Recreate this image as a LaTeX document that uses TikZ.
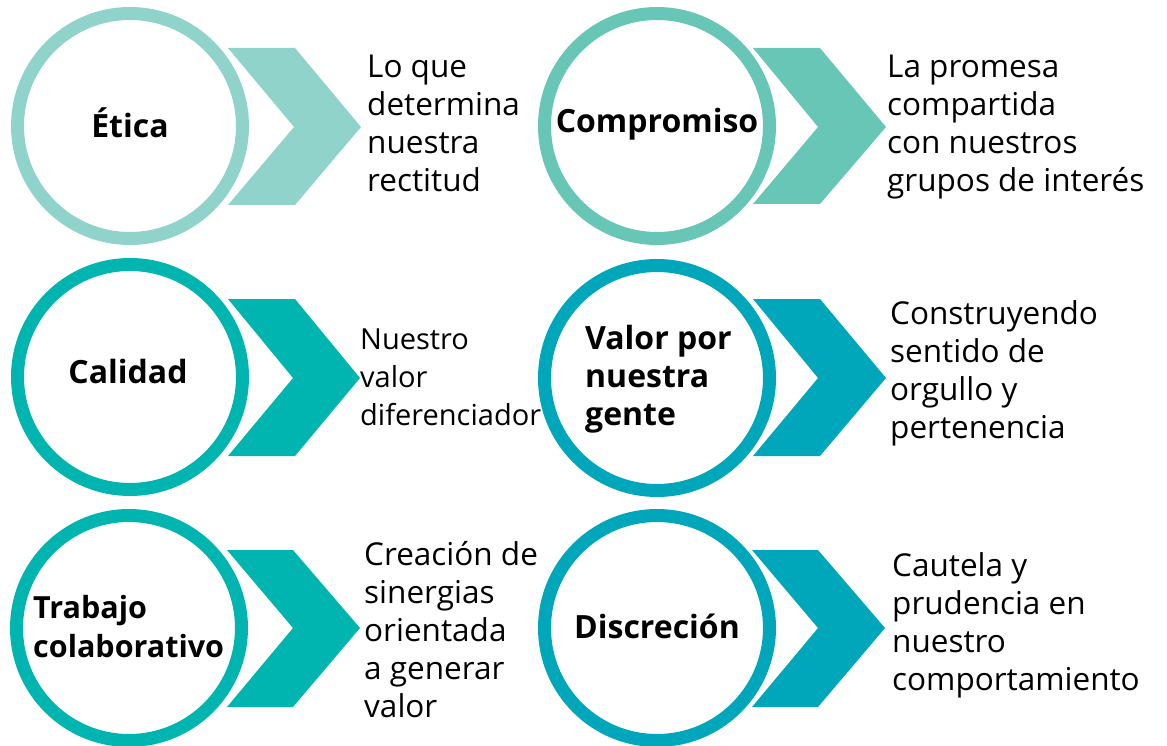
\documentclass[tikz,border=0pt]{standalone}
\usepackage{fontspec}
\setmainfont{Open Sans}
\definecolor{cA}{HTML}{8FD3CA}
\definecolor{cB}{HTML}{67C6B5}
\definecolor{cC}{HTML}{00B5AF}
\definecolor{cD}{HTML}{00A6B9}
\begin{document}
\begin{tikzpicture}[x=1pt,y=-1pt,
  ring/.style={circle, draw=#1, line width=13pt, fill=white, minimum size=225pt, inner sep=0pt},
  chev/.style={fill=#1, draw=none},
  lbl/.style={font=\fontsize{32}{38}\selectfont\bfseries, inner sep=0pt, align=left},
  desc/.style={font=\fontsize{31.5}{38}\selectfont, inner sep=0pt, align=left, anchor=base west, text=black}]
\useasboundingbox (0,0) rectangle (1167,746);
% chevrons
\fill[chev=cA] (228,48) -- (295,48) -- (361,127) -- (295,205) -- (228,205) -- (294,127) -- cycle;
\fill[chev=cB] (753,48) -- (820,48) -- (886,127) -- (820,204) -- (753,204) -- (818,127) -- cycle;
\fill[chev=cC] (228,299) -- (295,299) -- (360,378) -- (295,456) -- (228,456) -- (293,378) -- cycle;
\fill[chev=cD] (753,299) -- (820,299) -- (886,378) -- (820,456) -- (753,456) -- (818,378) -- cycle;
\fill[chev=cC] (227,550) -- (293,550) -- (360,628) -- (293,707) -- (227,707) -- (293,628) -- cycle;
\fill[chev=cD] (752,550) -- (818,550) -- (885,628) -- (818,707) -- (752,707) -- (818,628) -- cycle;
% circles
\node[ring=cA] (c1) at (130,126) {};
\node[ring=cB] (c2) at (657,126) {};
\node[ring=cC] (c3) at (130,377) {};
\node[ring=cD] (c4) at (657,378) {};
\node[ring=cC] (c5) at (129,628) {};
\node[ring=cD] (c6) at (657,628) {};
% circle labels
\node[lbl, anchor=base] (l1) at (130,138) {Ética};
\node[lbl, anchor=base] (l2) at (657,133) {Compromiso};
\node[lbl, anchor=base] (l3) at (128,383) {Calidad};
\node[lbl, anchor=base west] (l4) at (585,425) {Valor por\\nuestra\\gente};
\node[lbl, anchor=base west, font=\fontsize{30.5}{39}\selectfont\bfseries] (l5) at (33,657) {Trabajo\\colaborativo};
\node[lbl, anchor=base] (l6) at (657,638) {Discreción};
% descriptions (anchor = baseline of the last line)
\node[desc] (d1) at (367,192) {Lo que\\determina\\nuestra\\rectitud};
\node[desc] (d2) at (887,192) {La promesa\\compartida\\con nuestros\\grupos de interés};
\node[desc, font=\fontsize{29}{38}\selectfont] (d3) at (360,425) {Nuestro\\valor\\diferenciador};
\node[desc] (d4) at (890,438) {Construyendo\\sentido de\\orgullo y\\pertenencia};
\node[desc] (d5) at (364,717) {Creación de\\sinergias\\orientada\\a generar\\valor};
\node[desc] (d6) at (892,690) {Cautela y\\prudencia en\\nuestro\\comportamiento};
\end{tikzpicture}
\end{document}
